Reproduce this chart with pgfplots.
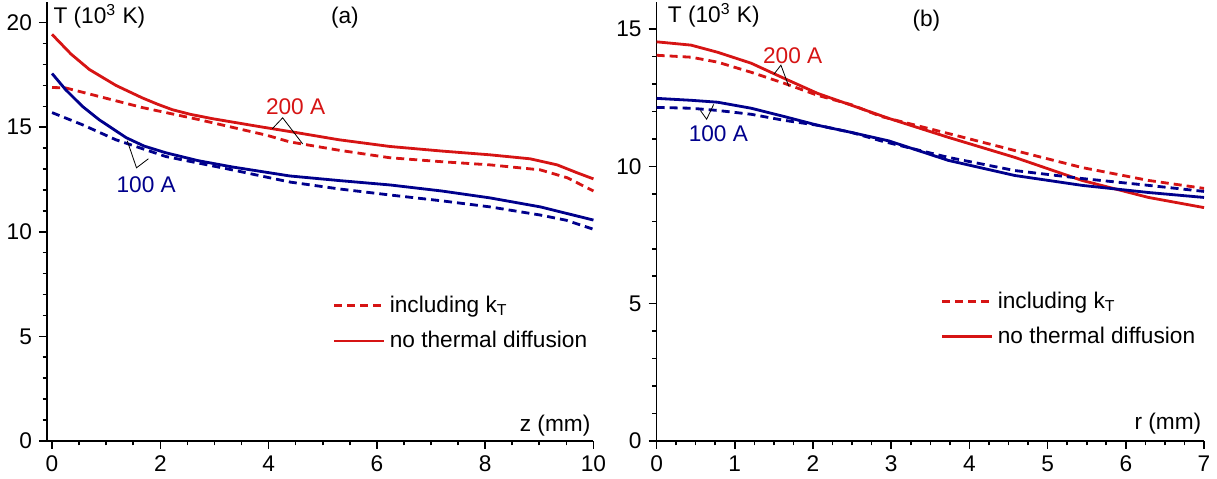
\documentclass[border=0pt]{standalone}
\usepackage{fontspec}
\setmainfont{Liberation Sans}
\usepackage{pgfplots}
\pgfplotsset{compat=1.18}
\definecolor{cRed}{RGB}{214,20,20}
\definecolor{cBlue}{RGB}{0,0,140}
\newcommand{\fs}{\fontsize{11.3}{12.8}\selectfont}

\pgfplotsset{
  panel/.style={
    scale only axis, height=219pt,
    axis lines=left, axis line style={-, line width=0.9pt},
    tick align=outside, major tick length=4pt, minor tick length=2.2pt,
    every tick/.style={black, line width=0.8pt},
    tick label style={font=\fs},
    /pgf/number format/assume math mode=true,
    ymin=0, clip=false,
    legend style={draw=none, fill=none, font=\fs, row sep=4pt,
      inner sep=0pt, cells={anchor=west}},
    legend image code/.code={\draw[##1, line width=1.4pt] (0pt,0pt) -- (25pt,0pt);},
  },
  kT/.style={line width=1.4pt, dash pattern=on 4pt off 2.5pt},
  noD/.style={line width=1.4pt},
}

\begin{document}
\begin{tikzpicture}
% (a) along the axis
\begin{axis}[panel, at={(0,0)}, anchor=south west,
  width=272.5pt, xmin=-0.093, xmax=10, ymax=21,
  xtick={0,2,...,10}, minor x tick num=3,
  ytick={0,5,...,20}, minor y tick num=4,
  legend style={at={(axis cs:5.18,7.15)}, anchor=north west}]
\addplot[cRed, kT] coordinates {
  (0,16.9) (0.25,16.88) (0.87,16.47) (1.67,15.94) (2.72,15.36) (3.96,14.62)
  (4.39,14.3) (5.3,13.9) (6.24,13.54) (7.2,13.35) (8.09,13.2) (9.02,12.96)
  (9.52,12.58) (10,11.95)};
\addlegendentry{including k\textsubscript{T}}
\addplot[cRed, noD] coordinates {
  (0,19.44) (0.35,18.5) (0.69,17.76) (1.18,17.0) (1.67,16.4) (1.95,16.1)
  (2.22,15.84) (2.55,15.62) (2.96,15.41) (3.83,15.03) (4.52,14.74) (5.3,14.4)
  (6.24,14.08) (7.2,13.86) (8.09,13.68) (8.83,13.49) (9.33,13.2) (9.7,12.82)
  (10,12.53)};
\addlegendentry{no thermal diffusion}
\addplot[cBlue, kT, forget plot] coordinates {
  (0,15.7) (0.56,15.12) (1.18,14.4) (2.1,13.6) (3.33,12.96) (4.39,12.38)
  (5.3,12.05) (6.24,11.76) (7.2,11.48) (8.09,11.19) (9.02,10.8) (9.5,10.55)
  (10,10.12)};
\addplot[cBlue, noD, forget plot] coordinates {
  (0,17.57) (0.25,16.8) (0.56,16.0) (0.87,15.36) (1.37,14.5) (1.7,14.1)
  (2.1,13.78) (2.7,13.4) (3.33,13.1) (4.39,12.67) (5.3,12.45) (6.24,12.24)
  (7.2,11.95) (8.09,11.62) (9.02,11.19) (10,10.56)};
\draw[line width=0.4pt] (axis cs:4.07,14.93) -- (axis cs:4.26,15.45) -- (axis cs:4.63,14.2);
\draw[line width=0.4pt] (axis cs:1.39,14.35) -- (axis cs:1.56,13.06) -- (axis cs:1.78,13.49);
\node[cRed, font=\fs] at (axis cs:4.5,16.0) {200 A};
\node[cBlue, font=\fs] at (axis cs:1.74,12.24) {100 A};
\node[anchor=west, font=\fs, inner sep=0pt] at (axis cs:0.02,20.3) {T (10\textsuperscript{3} K)};
\node[font=\fs] at (axis cs:5.41,20.26) {(a)};
\node[anchor=east, font=\fs, inner sep=0pt] at (axis cs:9.95,0.72) {z (mm)};
\end{axis}
% (b) radial
\begin{axis}[panel, at={(304pt,0)}, anchor=south west,
  width=273pt, xmin=0, xmax=7, ymax=16,
  xtick={0,...,7}, minor x tick num=3,
  ytick={0,5,...,15}, minor y tick num=4,
  legend style={at={(axis cs:3.63,5.6)}, anchor=north west}]
\addplot[cRed, kT] coordinates {
  (0,14.05) (0.44,13.98) (0.78,13.8) (1.21,13.43) (1.63,13.03) (2.06,12.59)
  (2.49,12.25) (2.87,11.82) (3.73,11.2) (4.58,10.58) (5.44,9.96) (6.29,9.49)
  (7,9.2)};
\addlegendentry{including k\textsubscript{T}}
\addplot[cRed, noD] coordinates {
  (0,14.54) (0.44,14.42) (0.78,14.16) (1.21,13.76) (1.63,13.21) (2.06,12.66)
  (2.49,12.23) (2.97,11.75) (3.73,11.06) (4.58,10.33) (5.44,9.49) (6.29,8.87)
  (7,8.5)};
\addlegendentry{no thermal diffusion}
\addplot[cBlue, kT, forget plot] coordinates {
  (0,12.15) (0.44,12.12) (0.78,12.04) (1.21,11.9) (1.63,11.68) (2.06,11.5)
  (2.49,11.24) (2.87,10.93) (3.73,10.33) (4.58,9.85) (5.44,9.56) (6.29,9.31)
  (7,9.09)};
\addplot[cBlue, noD, forget plot] coordinates {
  (0,12.48) (0.44,12.41) (0.78,12.34) (1.21,12.12) (1.63,11.82) (2.06,11.5)
  (2.49,11.24) (2.97,10.93) (3.73,10.22) (4.58,9.67) (5.44,9.31) (6.29,9.05)
  (7,8.87)};
\draw[line width=0.4pt] (axis cs:1.5,13.36) -- (axis cs:1.59,13.69) -- (axis cs:1.69,12.92);
\draw[line width=0.4pt] (axis cs:0.56,12.04) -- (axis cs:0.64,11.72) -- (axis cs:0.73,12.26);
\node[cRed, font=\fs] at (axis cs:1.74,14.05) {200 A};
\node[cBlue, font=\fs] at (axis cs:0.79,11.2) {100 A};
\node[anchor=west, font=\fs, inner sep=0pt] at (axis cs:0.14,15.5) {T (10\textsuperscript{3} K)};
\node[font=\fs] at (axis cs:3.45,15.33) {(b)};
\node[anchor=east, font=\fs, inner sep=0pt] at (axis cs:6.97,0.62) {r (mm)};
\end{axis}
\end{tikzpicture}
\end{document}
